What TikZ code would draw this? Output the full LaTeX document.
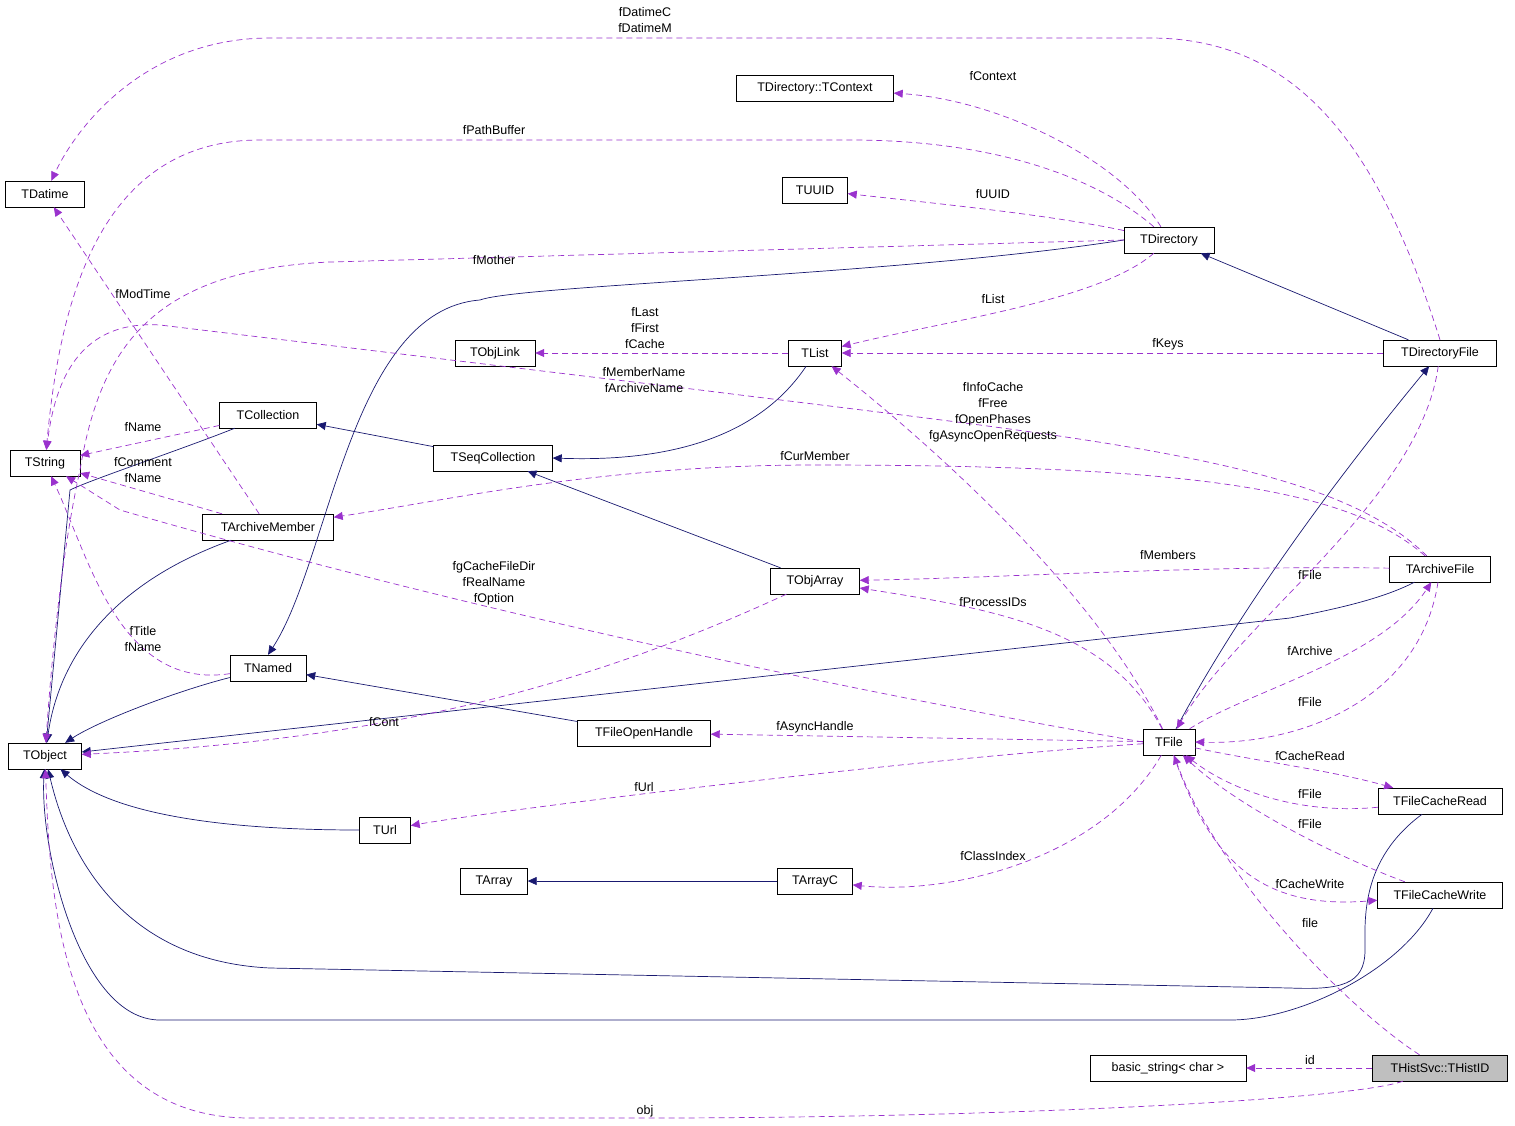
\documentclass[tikz,border=0pt]{standalone}
\usepackage{fontspec}
\setmainfont{Liberation Sans}
\usetikzlibrary{arrows.meta}
\definecolor{navy}{HTML}{191970}
\definecolor{purp}{HTML}{9A32CD}
\begin{document}
\begin{tikzpicture}[x=1pt,y=-1pt,
  box/.style={draw=black,fill=white,minimum height=26pt,inner sep=0pt,font=\fontsize{12.5}{14}\selectfont},
  inh/.style={draw=navy,line width=0.7pt,-{Triangle[length=9pt,width=8pt]}},
  use/.style={draw=purp,line width=0.7pt,dash pattern=on 6pt off 4pt,-{Triangle[length=9pt,width=8pt]}},
  lab/.style={font=\fontsize{12.5}{16}\selectfont,align=center,inner sep=0pt}]
\useasboundingbox (0,0) rectangle (1515,1125);
% nodes
\node[box,minimum width=79pt] (TDatime) at (45,194) {TDatime};
\node[box,minimum width=157pt] (TContext) at (815,88) {TDirectory::TContext};
\node[box,minimum width=65pt] (TUUID) at (815,190) {TUUID};
\node[box,minimum width=90pt] (TDirectory) at (1169,240) {TDirectory};
\node[box,minimum width=80pt] (TObjLink) at (495,353) {TObjLink};
\node[box,minimum width=53pt] (TList) at (815,353) {TList};
\node[box,minimum width=113pt] (TDirectoryFile) at (1440,353) {TDirectoryFile};
\node[box,minimum width=97pt] (TCollection) at (268,415) {TCollection};
\node[box,minimum width=70pt] (TString) at (45,463) {TString};
\node[box,minimum width=119pt] (TSeqCollection) at (493,458) {TSeqCollection};
\node[box,minimum width=131pt] (TArchiveMember) at (268,527) {TArchiveMember};
\node[box,minimum width=101pt] (TArchiveFile) at (1440,569) {TArchiveFile};
\node[box,minimum width=89pt] (TObjArray) at (815,581) {TObjArray};
\node[box,minimum width=76pt] (TNamed) at (268,668) {TNamed};
\node[box,minimum width=133pt] (TFileOpenHandle) at (644,733) {TFileOpenHandle};
\node[box,minimum width=73pt] (TObject) at (45,756) {TObject};
\node[box,minimum width=52pt] (TFile) at (1169,742) {TFile};
\node[box,minimum width=124pt] (TFileCacheRead) at (1440,801) {TFileCacheRead};
\node[box,minimum width=51pt] (TUrl) at (385,830) {TUrl};
\node[box,minimum width=67pt] (TArray) at (494,881) {TArray};
\node[box,minimum width=75pt] (TArrayC) at (815,881) {TArrayC};
\node[box,minimum width=125pt] (TFileCacheWrite) at (1440,895) {TFileCacheWrite};
\node[box,minimum width=156pt] (bstring) at (1168,1068) {basic\_string< char >};
\node[box,minimum width=135pt,fill=black!25] (THistID) at (1440,1068) {THistSvc::THistID};
% inheritance
\draw[inh] (TDirectoryFile) -- (TDirectory);
\draw[inh] (TDirectory.west) .. controls (900,275) and (520,285) .. (480,300) .. controls (350,310) and (330,560) .. (TNamed.north);
\draw[inh] (TList) .. controls (770,420) and (700,463) .. (TSeqCollection.east);
\draw[inh] (TSeqCollection) -- (TCollection);
\draw[inh] (TCollection) .. controls (180,450) and (90,480) .. (70,490) -- (TObject);
\draw[inh] (TArchiveMember) .. controls (120,580) and (60,650) .. (TObject);
\draw[inh] (TObjArray) -- (TSeqCollection);
\draw[inh] (TNamed) .. controls (180,690) and (100,720) .. (TObject);
\draw[inh] (TFileOpenHandle) -- (TNamed);
\draw[inh] (TArchiveFile) .. controls (1380,600) and (1330,610) .. (1290,618) -- (TObject);
\draw[inh] (TFile) .. controls (1250,590) and (1360,450) .. (TDirectoryFile);
\draw[inh] (TUrl) .. controls (250,830) and (120,820) .. (TObject);
\draw[inh] (TArrayC) -- (TArray);
\draw[inh] (TFileCacheRead) .. controls (1360,860) and (1365,920) .. (1365,950) .. controls (1365,985) and (1340,990) .. (1290,988) -- (270,968) .. controls (100,960) and (60,820) .. (TObject);
\draw[inh] (TFileCacheWrite) .. controls (1400,970) and (1300,1020) .. (1230,1020) -- (160,1020) .. controls (80,1020) and (40,850) .. (TObject);
% usage
\draw[use] (TDirectoryFile.north) .. controls (1380,150) and (1300,38) .. (1150,38) -- (270,38) .. controls (150,38) and (80,120) .. (TDatime);
\node[lab] at (645,20) {fDatimeC\\fDatimeM};
\draw[use] (TDirectory) .. controls (1120,160) and (1000,100) .. (TContext);
\node[lab] at (993,76) {fContext};
\draw[use] (TDirectory) .. controls (1050,215) and (950,205) .. (TUUID);
\node[lab] at (993,194) {fUUID};
\draw[use] (TDirectory) .. controls (1100,180) and (1000,140) .. (850,140) -- (260,140) .. controls (100,140) and (60,300) .. (TString);
\node[lab] at (494,130) {fPathBuffer};
\draw[use] (TDirectory.west) -- (330,262) .. controls (150,270) and (100,350) .. (80,470) .. controls (60,560) and (50,680) .. (TObject);
\node[lab] at (494,260) {fMother};
\draw[use] (TDirectory) .. controls (1100,300) and (950,320) .. (TList);
\node[lab] at (993,299) {fList};
\draw[use] (TList) -- (TObjLink);
\node[lab] at (645,328) {fLast\\fFirst\\fCache};
\draw[use] (TDirectoryFile) -- (TList);
\node[lab] at (1168,344) {fKeys};
\draw[use] (TArchiveFile) .. controls (1330,460) and (1100,440) .. (700,390) -- (160,325) .. controls (80,320) and (55,380) .. (TString);
\node[lab] at (644,380) {fMemberName\\fArchiveName};
\draw[use] (TFile) .. controls (1100,600) and (950,460) .. (TList);
\node[lab] at (993,412) {fInfoCache\\fFree\\fOpenPhases\\fgAsyncOpenRequests};
\draw[use] (TArchiveFile) .. controls (1350,490) and (1200,465) .. (815,465) .. controls (600,465) and (450,500) .. (TArchiveMember);
\node[lab] at (815,456) {fCurMember};
\draw[use] (TCollection) -- (TString);
\node[lab] at (143,427) {fName};
\draw[use] (TArchiveMember) -- (TString);
\node[lab] at (143,470) {fComment\\fName};
\draw[use] (TArchiveMember) -- (TDatime);
\node[lab] at (143,294) {fModTime};
\draw[use] (TArchiveFile) .. controls (1200,565) and (1000,578) .. (TObjArray);
\node[lab] at (1168,555) {fMembers};
\draw[use] (TDirectoryFile) .. controls (1420,500) and (1240,620) .. (TFile);
\node[lab] at (1310,575) {fFile};
\draw[use] (TFile) .. controls (1250,690) and (1380,660) .. (TArchiveFile);
\node[lab] at (1310,651) {fArchive};
\draw[use] (TArchiveFile) .. controls (1420,700) and (1300,745) .. (TFile.east);
\node[lab] at (1310,702) {fFile};
\draw[use] (TFile) .. controls (1110,630) and (1000,610) .. (TObjArray);
\node[lab] at (993,602) {fProcessIDs};
\draw[use] (TFile.west) .. controls (900,700) and (500,620) .. (120,510) -- (TString);
\node[lab] at (494,583) {fgCacheFileDir\\fRealName\\fOption};
\draw[use] (TNamed) .. controls (120,690) and (90,560) .. (TString);
\node[lab] at (143,639) {fTitle\\fName};
\draw[use] (TObjArray) .. controls (600,680) and (400,740) .. (TObject);
\node[lab] at (384,722) {fCont};
\draw[use] (TFile) -- (TFileOpenHandle);
\node[lab] at (815,727) {fAsyncHandle};
\draw[use] (TFile) .. controls (900,760) and (500,810) .. (TUrl);
\node[lab] at (644,787) {fUrl};
\draw[use] (TFile) .. controls (1100,860) and (950,895) .. (TArrayC);
\node[lab] at (993,856) {fClassIndex};
\draw[use] (TFile) .. controls (1250,760) and (1330,770) .. (TFileCacheRead);
\node[lab] at (1310,756) {fCacheRead};
\draw[use] (TFileCacheRead) .. controls (1300,815) and (1230,790) .. (TFile);
\node[lab] at (1310,794) {fFile};
\draw[use] (TFileCacheWrite) .. controls (1320,850) and (1230,800) .. (TFile);
\node[lab] at (1310,824) {fFile};
\draw[use] (TFile) .. controls (1210,860) and (1260,910) .. (TFileCacheWrite);
\node[lab] at (1310,884) {fCacheWrite};
\draw[use] (THistID) .. controls (1350,1010) and (1220,880) .. (TFile);
\node[lab] at (1310,923) {file};
\draw[use] (THistID) -- (bstring);
\node[lab] at (1310,1060) {id};
\draw[use] (THistID) .. controls (1350,1100) and (1000,1118) .. (645,1118) -- (250,1118) .. controls (60,1118) and (50,900) .. (TObject);
\node[lab] at (645,1111) {obj};
\end{tikzpicture}
\end{document}
